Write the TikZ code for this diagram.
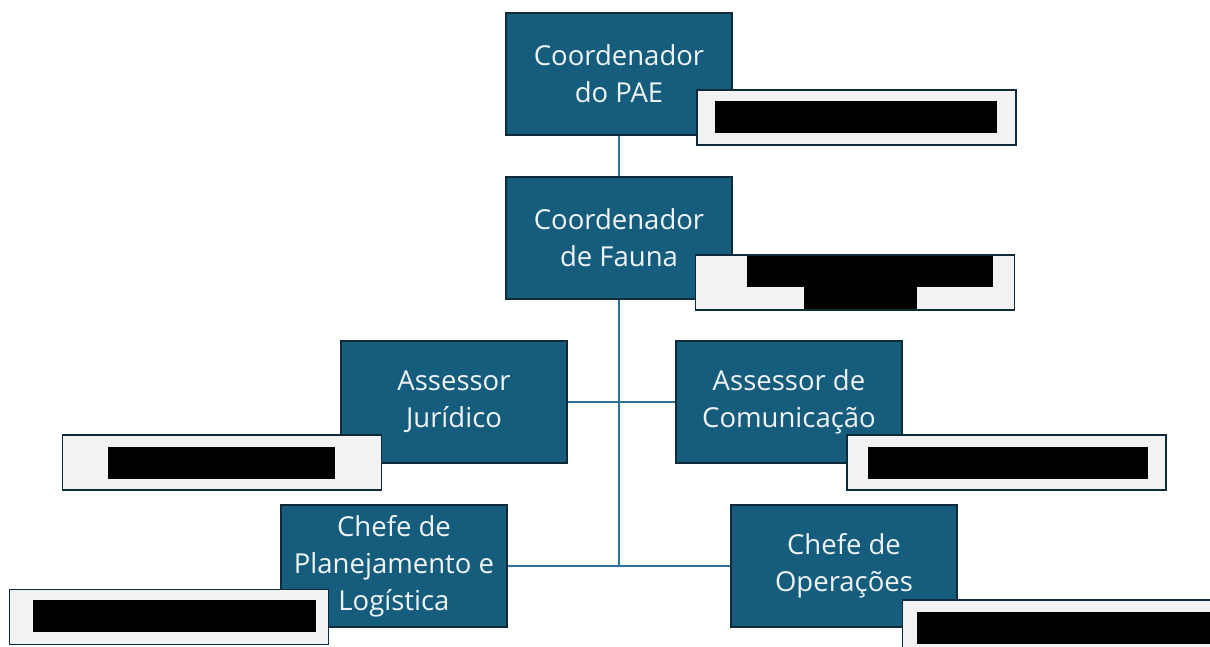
\documentclass[tikz,border=0pt]{standalone}
\usepackage{fontspec}
\setmainfont{Open Sans}
\usetikzlibrary{positioning}
\usetikzlibrary{backgrounds}

\definecolor{cargo}{HTML}{165C7D}
\definecolor{cargoborda}{HTML}{0F2B3A}
\definecolor{cargotexto}{HTML}{EEF3F6}
\definecolor{linha}{HTML}{2B7398}
\definecolor{nomefundo}{HTML}{F2F2F2}

\tikzset{
	cargo/.style={draw=cargoborda, line width=1.6pt, fill=cargo, text=cargotexto,
		minimum width=226, minimum height=122, align=center, inner sep=0pt,
		font=\fontsize{27.5}{37}\selectfont},
	nome/.style={draw=cargoborda, line width=1.8pt, fill=nomefundo,
		minimum width=319, minimum height=55, inner sep=0pt},
	tarja/.style={fill=black, minimum height=32, inner sep=0pt},
	ligacao/.style={draw=linha, line width=2pt}
}

\begin{document}
\begin{tikzpicture}[x=1pt, y=-1pt]
	\useasboundingbox (0,0) rectangle (1210,647);
	\clip (0,0) rectangle (1210,647);

	% cargos
	\node[cargo] (pae) at (619,74) {Coordenador\\do PAE};
	\node[cargo] (fauna) at (619,238) {Coordenador\\de Fauna};
	\node[cargo] (juridico) at (454,402) {Assessor\\Jurídico};
	\node[cargo] (comunicacao) at (789,402) {Assessor de\\Comunicação};
	\node[cargo] (planejamento) at (394,566) {Chefe de\\Planejamento e\\Logística};
	\node[cargo] (operacoes) at (844,566) {Chefe de\\Operações};

	% nomes (tarjados)
	\node[nome] (npae) at (856.5,117.5) {};
	\node[tarja, minimum width=282] at (856,117) {};
	\node[nome] (nfauna) at (855,282.5) {};
	\fill[black] (747,256) rectangle (993,287);
	\fill[black] (804,287) rectangle (917,309);
	\node[nome] (njuridico) at (222,462.5) {};
	\node[tarja, minimum width=227] at (221.5,463) {};
	\node[nome] (ncomunicacao) at (1006.5,462.5) {};
	\node[tarja, minimum width=280] at (1008,463) {};
	\node[nome] (nplanejamento) at (169,617) {};
	\node[tarja, minimum width=283] at (174.5,616) {};
	\node[nome] (noperacoes) at (1062,627.5) {};
	\node[tarja, minimum width=300] at (1067,627.5) {};

	% ligacoes
	\coordinate (base) at (fauna |- operacoes);
	\begin{scope}[on background layer]
		\draw[ligacao] (pae) -- (fauna);
		\draw[ligacao] (fauna) -- (base);
		\draw[ligacao] (juridico) -- (comunicacao);
		\draw[ligacao] (planejamento) -- (operacoes);
	\end{scope}
\end{tikzpicture}
\end{document}
